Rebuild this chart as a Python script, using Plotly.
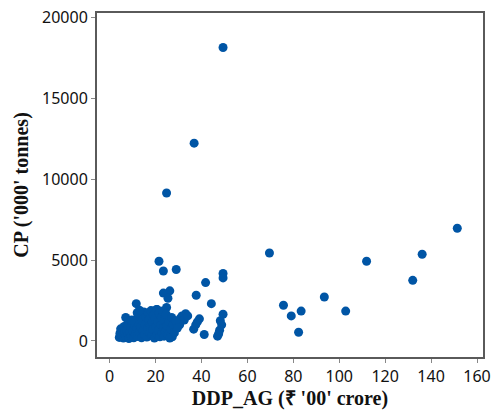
import plotly.graph_objects as go

# Outlying / sparse points (DDP_AG, CP)
x_sparse = [49.4, 36.8, 24.8, 151.4, 136.1, 132.0, 111.9, 93.5, 102.8, 75.7, 79.1, 83.4, 82.3, 69.6,
            21.5, 23.4, 29.0, 49.4, 49.4, 41.8, 37.7, 44.3, 26.2, 23.4, 25.4, 11.6, 24.8, 33.1,
            31.5, 49.4, 39.1, 38.2, 48.2, 36.6, 47.9, 47.0, 41.2, 30.0, 28.0, 27.3, 7.0, 20.7,
            48.8, 47.5, 37.5, 30.8, 32.5, 30.5, 34.0]
y_sparse = [18150, 12230, 9150, 6970, 5360, 3750, 4930, 2720, 1850, 2210, 1550, 1850, 540, 5440,
            4930, 4330, 4420, 4170, 3900, 3610, 2830, 2310, 3100, 2960, 2640, 2310, 2070, 1690,
            1550, 1650, 1370, 1180, 1250, 730, 670, 300, 400, 1180, 660, 260, 1450, 1940,
            1000, 450, 1000, 1400, 1300, 1000, 1550]

# Dense cluster of districts near the origin
x_cluster = [4.2, 4.5, 4.8, 5.3, 5.6, 6.0, 6.3, 6.5, 7.1, 7.4, 7.8, 8.0, 8.4, 8.8, 9.1, 9.4, 9.8,
             10.2, 10.5, 10.9, 11.2, 11.5, 11.9, 12.3, 12.6, 12.9, 13.3, 13.6, 13.9, 14.2, 14.6,
             14.9, 15.2, 15.5, 15.8, 16.2, 16.5, 16.8, 17.1, 17.4, 17.7, 18.0, 18.3, 18.6, 18.9,
             19.2, 19.5, 19.8, 20.1, 20.4, 20.7, 21.0, 21.3, 21.6, 21.9, 22.2, 22.5, 22.8, 23.1,
             23.4, 23.7, 24.0, 24.3, 24.6, 25.0, 25.4, 25.8, 26.2, 26.6, 27.0, 27.6, 28.2, 28.8,
             29.5, 12.0, 13.0, 9.6]
y_cluster = [220, 480, 750, 300, 620, 180, 900, 450, 260, 700, 1050, 380, 150, 560, 850, 300, 1150,
             620, 200, 950, 420, 1350, 760, 280, 1100, 520, 1600, 880, 200, 1250, 640,
             1800, 380, 1020, 1500, 240, 780, 1750, 1300, 500, 960, 1880, 320, 1150, 700,
             1600, 180, 1400, 880, 1950, 420, 1200, 650, 1720, 260, 1000, 1450, 500, 1850,
             800, 300, 1300, 600, 1650, 950, 400, 1200, 180, 750, 1450, 1000, 500, 1250,
             800, 1750, 1900, 1300]

x_vals = x_sparse + x_cluster
y_vals = y_sparse + y_cluster

x_ticks = [0, 20, 40, 60, 80, 100, 120, 140, 160]
y_ticks = [0, 5000, 10000, 15000, 20000]
y_tick_labels = ["0", "5000", "10000", "15000", "20000"]

x_title = "<b>DDP_AG (₹ '00' crore)</b>"
y_title = "<b>CP ('000' tonnes)</b>"

fig = go.Figure(go.Scatter(
    x=x_vals, y=y_vals, mode="markers",
    marker=dict(size=9, color="#0055A5", line=dict(width=0)),
    hoverinfo="x+y",
))

axis_common = dict(
    showgrid=False, zeroline=False, showline=True, mirror=True,
    linecolor="#5a5a5a", linewidth=2,
    ticks="outside", ticklen=4, tickcolor="#888888", tickwidth=1,
    tickfont=dict(family="Noto Sans", size=16, color="#111111"),
)

fig.update_layout(
    width=493, height=410,
    margin=dict(l=97, r=10, t=13, b=53),
    paper_bgcolor="white", plot_bgcolor="white",
    showlegend=False,
    xaxis=dict(range=[-5.5, 162.6], tickvals=x_ticks,
               title=dict(text=x_title, font=dict(family="Liberation Serif", size=20, color="#111111"),
                          standoff=2),
               automargin=False, **axis_common),
    yaxis=dict(range=[-990, 20280], tickvals=y_ticks, ticktext=y_tick_labels,
               title=dict(text=y_title, font=dict(family="Liberation Serif", size=20, color="#111111"),
                          standoff=8),
               automargin=False, **axis_common),
)

fig.write_html("out.html", config={"displayModeBar": False},
               post_script="document.body.style.margin='0';")
